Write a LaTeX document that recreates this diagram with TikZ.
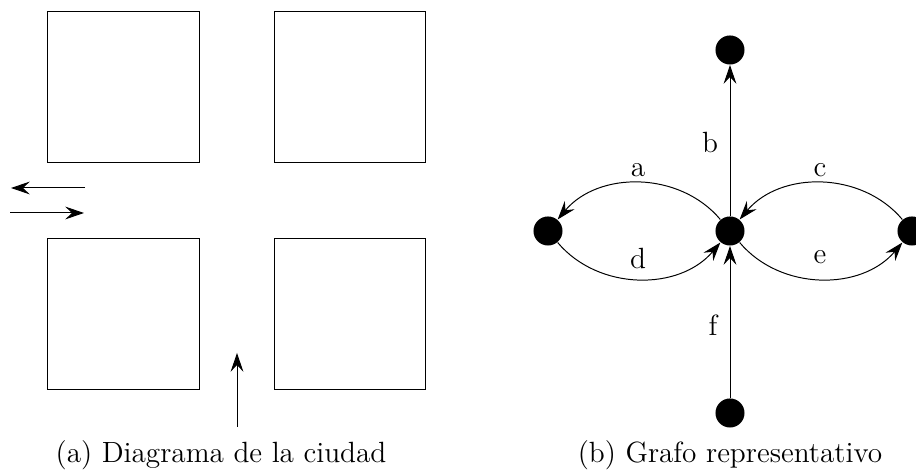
\documentclass[tikz,border=0pt]{standalone}
\usetikzlibrary{arrows.meta}
\begin{document}
\begin{tikzpicture}[x=0.4545pt,y=0.4545pt,
  line width=0.45pt,
  blockbox/.style={draw,line width=0.45pt},
  tip/.style={-{Stealth[length=8.5pt,width=5.8pt,inset=3pt]}},
  vertex/.style={circle,fill=black,inner sep=0pt,minimum size=13.2pt},
  lbl/.style={inner sep=0pt,font=\fontsize{13.3}{16}\selectfont}]
\useasboundingbox (0,0) rectangle (916,475);
% city blocks
\draw[blockbox] (47.5,312) rectangle (199,463);
\draw[blockbox] (274.7,312) rectangle (425.7,463);
\draw[blockbox] (47.5,85) rectangle (199,236);
\draw[blockbox] (274.7,85) rectangle (425.7,236);
% street arrows
\coordinate (h1s) at (85,287);
\coordinate (h1e) at (11,287);
\coordinate (h2s) at (10,262);
\coordinate (h2e) at (84,262);
\coordinate (vs) at (237,48);
\coordinate (ve) at (237,122);
\draw[tip] (h1s) -- (h1e);
\draw[tip] (h2s) -- (h2e);
\draw[tip] (vs) -- (ve);
% graph
\node[vertex] (C) at (730,244) {};
\node[vertex] (L) at (548,244) {};
\node[vertex] (R) at (912,244) {};
\node[vertex] (T) at (730,425) {};
\node[vertex] (B) at (730,62) {};
\draw[tip] (C) -- (T);
\draw[tip] (B) -- (C);
\draw[tip] (C) to[bend right=50] (L);
\draw[tip] (L) to[bend right=50] (C);
\draw[tip] (R) to[bend right=50] (C);
\draw[tip] (C) to[bend right=50] (R);
\node[lbl] (la) at (638,305) {a};
\node[lbl] (ld) at (638,217) {d};
\node[lbl] (lc) at (820,305) {c};
\node[lbl] (le) at (820,218) {e};
\node[lbl] (lb) at (710,333) {b};
\node[lbl] (lf) at (713,150) {f};
% captions
\node[lbl,anchor=base] (capa) at (221,12) {(a) Diagrama de la ciudad};
\node[lbl,anchor=base] (capb) at (730,12) {(b) Grafo representativo};
\end{tikzpicture}
\end{document}
